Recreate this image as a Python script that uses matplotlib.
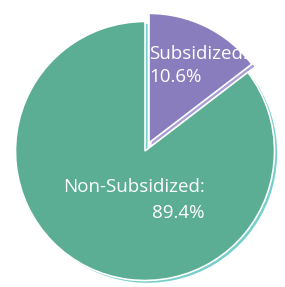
import matplotlib
matplotlib.use("Agg")
import matplotlib.pyplot as plt

labels = ["Subsidized:", "Non-Subsidized:"]
pct_text = ["10.6%", "89.4%"]
# wedge sizes as drawn in the picture (the slices are not drawn to the printed %)
shares = [14.6, 85.4]
colors = ["#8a7dbd", "#5bad94"]
rim_colors = ["#a99fd8", "#76cfcb"]
explode = [0.07, 0.0]

plt.rcParams["font.family"] = ["Open Sans", "DejaVu Sans"]

fig = plt.figure(figsize=(2.85, 2.87), dpi=100)
ax = fig.add_axes([0, 0, 1, 1])

# light rim: same pie, shifted a little right/down, underneath
ax.pie(shares, colors=rim_colors, explode=explode, startangle=90,
       counterclock=False, radius=1.0, center=(0.02, -0.018),
       wedgeprops=dict(linewidth=0))
ax.pie(shares, colors=colors, explode=explode, startangle=90,
       counterclock=False, radius=1.0,
       wedgeprops=dict(linewidth=1.2, edgecolor="white"))

ax.text(0.03, 0.66, f"{labels[0]}\n{pct_text[0]}", color="white",
        fontsize=13.5, ha="left", va="center", multialignment="left",
        linespacing=1.4)
ax.text(0.46, -0.38, f"{labels[1]}\n{pct_text[1]}", color="white",
        fontsize=13.5, ha="right", va="center", multialignment="right",
        linespacing=1.55)

r_px = 129.5
cx, cy = 145, 151
ax.set_xlim(-cx / r_px, (285 - cx) / r_px)
ax.set_ylim(-(287 - cy) / r_px, cy / r_px)
ax.set_aspect("auto")
ax.axis("off")

fig.savefig("out.png", dpi=100, facecolor="white")
